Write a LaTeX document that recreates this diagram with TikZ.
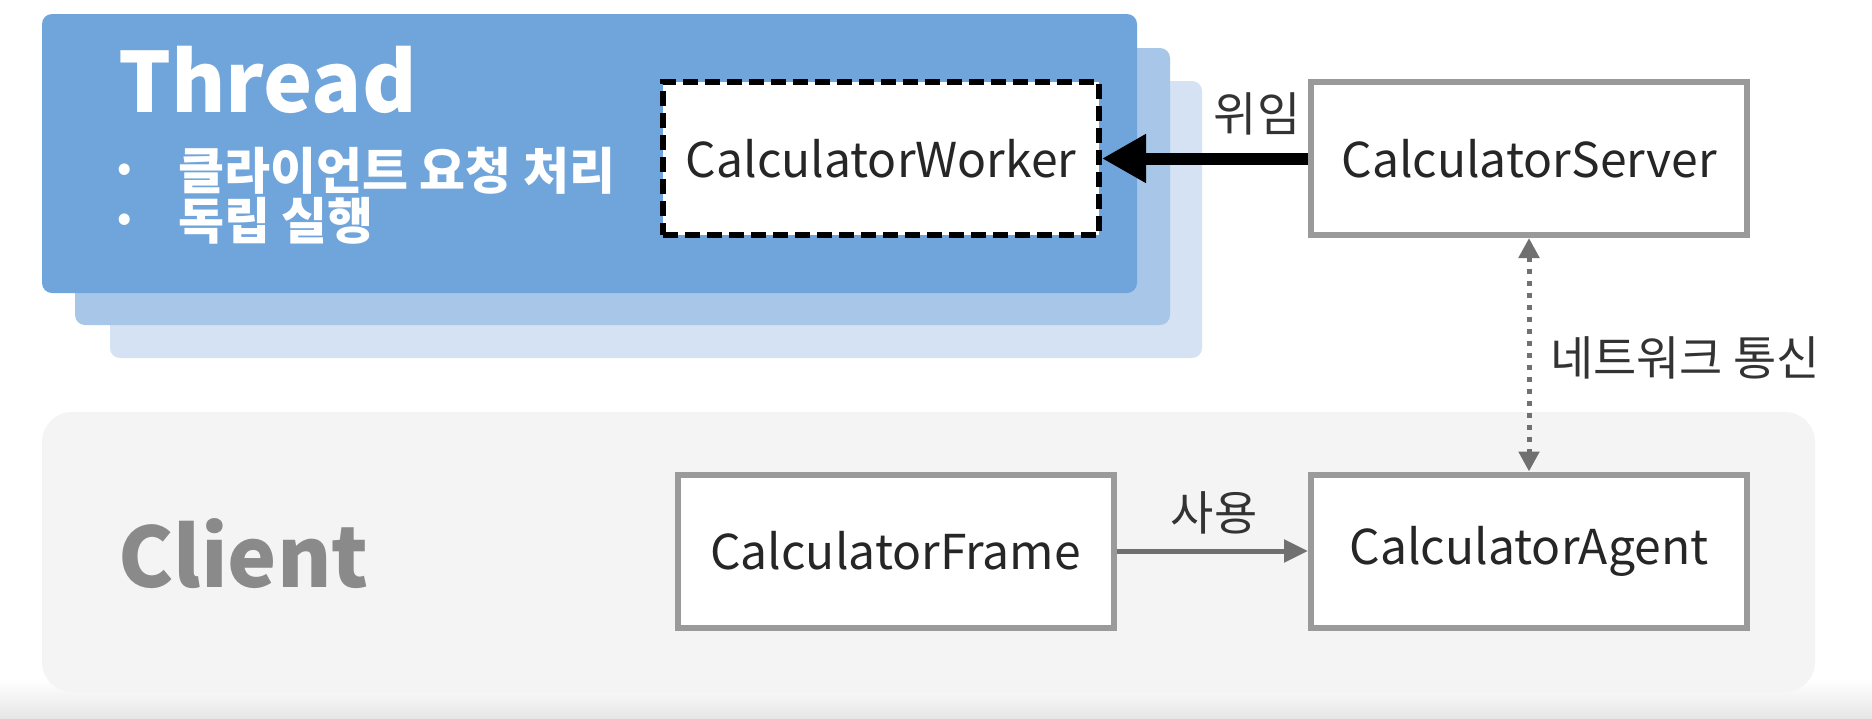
\documentclass[tikz,border=0pt]{standalone}
\usepackage{fontspec}
\setmainfont{Noto Sans CJK KR}
\usetikzlibrary{arrows.meta}
\definecolor{blueA}{HTML}{70A5DB}
\definecolor{blueB}{HTML}{A8C7E8}
\definecolor{blueC}{HTML}{D4E2F3}
\definecolor{clientbg}{HTML}{F4F4F4}
\definecolor{bandgray}{HTML}{E6E6E6}
\definecolor{boxgray}{HTML}{9A9A9A}
\definecolor{arrgray}{HTML}{707070}
\definecolor{clientgray}{HTML}{8A8A8A}
\begin{document}
\begin{tikzpicture}[x=1pt,y=-1pt,
  box/.style={draw=boxgray, line width=6pt, fill=white, minimum width=436pt,
    minimum height=153pt, inner sep=0pt, font=\fontsize{48}{54}\selectfont, text=black!85},
  workerbox/.style={box, draw=black, dash pattern=on 15pt off 7pt},
  lbl/.style={font=\fontsize{47}{52}\selectfont, text=black!80, inner sep=0pt},
  bullettext/.style={font=\fontsize{50}{56}\bfseries\selectfont, text=white, inner sep=0pt, anchor=west},
  bulletdot/.style={font=\fontsize{36}{36}\bfseries\selectfont, text=white, inner sep=0pt},
  title/.style={font=\fontsize{83}{92}\bfseries\selectfont, inner sep=0pt, anchor=base west}]
\useasboundingbox (0,0) rectangle (1872,718);
\fill[white] (0,0) rectangle (1872,718);
\shade[top color=white, bottom color=bandgray] (0,680) rectangle (1872,718);
% thread layers
\fill[blueC, rounded corners=10pt] (110,81) rectangle (1202,358);
\fill[blueB, rounded corners=10pt] (75,48) rectangle (1170,325);
\fill[blueA, rounded corners=10pt] (42,14) rectangle (1137,293);
% client panel
\fill[clientbg, rounded corners=30pt] (42,412) rectangle (1815,692);
% titles
\node[title, text=white] (thread) at (118,112) {Thread};
\node[bulletdot] (b1) at (125,172) {•};
\node[bullettext] (t1) at (178,171) {클라이언트 요청 처리};
\node[bulletdot] (b2) at (125,222) {•};
\node[bullettext] (t2) at (178,221) {독립 실행};
\node[title, text=clientgray] (client) at (118,587) {Client};
% boxes
\node[workerbox] (worker) at (881,158.5) {CalculatorWorker};
\node[box] (server) at (1529,158.5) {CalculatorServer};
\node[box] (frame) at (895.5,551) {CalculatorFrame};
\node[box] (agent) at (1529,551) {CalculatorAgent};
% connectors
\draw[line width=12pt, -{Triangle[length=44pt,width=46pt]}] (server.west) -- (worker.east);
\node[lbl] (lwiim) at (1257,114) {위임};
\draw[arrgray, line width=5pt, dash pattern=on 5pt off 7pt,
  {Triangle[length=20pt,width=20pt]}-{Triangle[length=20pt,width=20pt]}] (server.south) -- (agent.north);
\node[lbl, anchor=west] (lnet) at (1550,358) {네트워크 통신};
\draw[arrgray, line width=5pt, -{Triangle[length=24pt,width=22pt]}] (frame.east) -- (agent.west);
\node[lbl] (lsa) at (1214,513) {사용};
\end{tikzpicture}
\end{document}
